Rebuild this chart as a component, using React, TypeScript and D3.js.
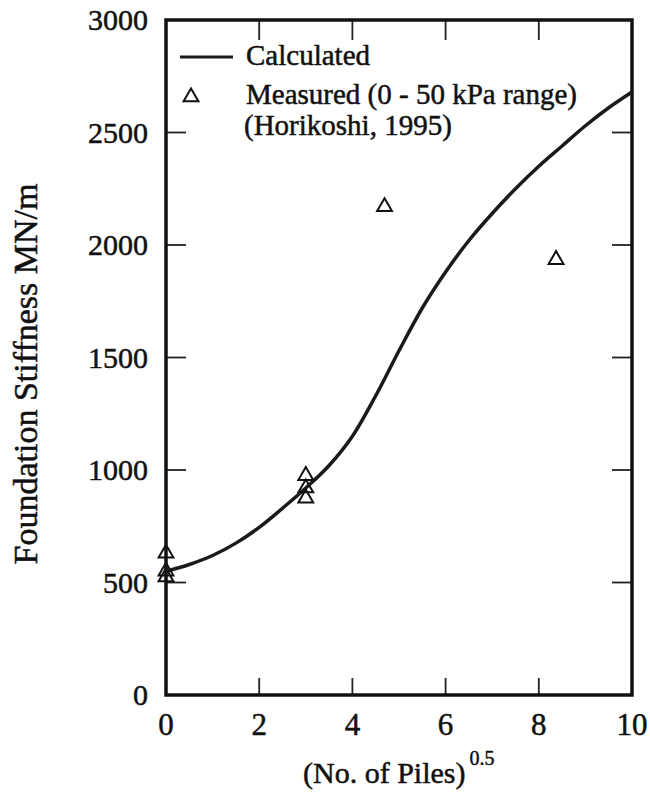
import React, { useEffect, useRef } from 'react';
import * as d3 from 'd3';

// Calculated curve: sqrt(no. of piles) vs stiffness (MN/m)
const calcX = [0, 0.5, 1, 1.5, 2, 2.5, 3, 3.5, 4, 4.5, 5, 5.5, 6, 6.5, 7, 7.5, 8, 8.5, 9, 9.5, 10];
const calcY = [550, 580, 620, 675, 745, 830, 920, 1020, 1150, 1330, 1530, 1720, 1880, 2020, 2140, 2250, 2350, 2440, 2530, 2610, 2680];

// Measured points (Horikoshi, 1995)
const measX = [0, 0, 0, 3, 3, 3, 4.69, 8.37];
const measY = [630, 550, 525, 975, 920, 875, 2170, 1935];

const xTicks = [0, 2, 4, 6, 8, 10];
const yTicks = [0, 500, 1000, 1500, 2000, 2500, 3000];

const legendLabels = ['Calculated', 'Measured (0 - 50 kPa range)', '(Horikoshi, 1995)'];

const W = 650;
const H = 792;
const FONT = 'Liberation Serif, Times New Roman, Times, DejaVu Serif, serif';

export default function App() {
  const svgRef = useRef<SVGSVGElement | null>(null);

  useEffect(() => {
    document.body.style.margin = '0';
    if (!svgRef.current) return;
    const svg = d3.select(svgRef.current);
    svg.selectAll('*').remove();

    const x = d3.scaleLinear().domain([0, 10]).range([166, 632]);
    const y = d3.scaleLinear().domain([0, 3000]).range([695, 20]);

    svg.append('rect').attr('width', W).attr('height', H).attr('fill', '#fff');

    const g = svg.append('g')
      .attr('font-family', FONT)
      .attr('fill', '#111');

    // ticks (inward, on all four sides)
    g.selectAll('.xtb').data(xTicks.slice(1, -1)).enter().append('line')
      .attr('x1', d => x(d)).attr('x2', d => x(d))
      .attr('y1', y(0)).attr('y2', y(0) - 17)
      .attr('stroke', '#222').attr('stroke-width', 1.8);
    g.selectAll('.xtt').data(xTicks.slice(1, -1)).enter().append('line')
      .attr('x1', d => x(d)).attr('x2', d => x(d))
      .attr('y1', y(3000)).attr('y2', y(3000) + 20)
      .attr('stroke', '#222').attr('stroke-width', 1.8);
    g.selectAll('.ytl').data(yTicks.slice(1, -1)).enter().append('line')
      .attr('x1', x(0)).attr('x2', x(0) + 20)
      .attr('y1', d => y(d)).attr('y2', d => y(d))
      .attr('stroke', '#222').attr('stroke-width', 1.8);
    g.selectAll('.ytr').data(yTicks.slice(1, -1)).enter().append('line')
      .attr('x1', x(10)).attr('x2', x(10) - 20)
      .attr('y1', d => y(d)).attr('y2', d => y(d))
      .attr('stroke', '#222').attr('stroke-width', 1.8);

    // frame
    g.append('rect')
      .attr('x', x(0)).attr('y', y(3000))
      .attr('width', x(10) - x(0)).attr('height', y(0) - y(3000))
      .attr('fill', 'none').attr('stroke', '#111').attr('stroke-width', 3.5);

    // tick labels
    g.selectAll('.xl').data(xTicks).enter().append('text')
      .attr('x', d => x(d)).attr('y', 735)
      .attr('text-anchor', 'middle')
      .attr('font-size', 31)
      .attr('stroke', '#111').attr('stroke-width', 0.5)
      .text(d => d);
    g.selectAll('.yl').data(yTicks).enter().append('text')
      .attr('x', 148).attr('y', d => y(d))
      .attr('dy', '0.34em')
      .attr('text-anchor', 'end')
      .attr('font-size', 30)
      .attr('stroke', '#111').attr('stroke-width', 0.5)
      .text(d => d);

    // axis titles
    const xt = g.append('text')
      .attr('x', 303).attr('y', 783)
      .attr('font-size', 30)
      .attr('stroke', '#111').attr('stroke-width', 0.5);
    xt.append('tspan').text('(No. of Piles)');
    xt.append('tspan').attr('dx', 4).attr('dy', -18).attr('font-size', 20).text('0.5');

    g.append('text')
      .attr('transform', `translate(37,374) rotate(-90)`)
      .attr('text-anchor', 'middle')
      .attr('font-size', 34)
      .attr('stroke', '#111').attr('stroke-width', 0.5)
      .text('Foundation Stiffness MN/m');

    // calculated curve
    const line = d3.line<number>()
      .x((_, i) => x(calcX[i]))
      .y(d => y(d))
      .curve(d3.curveCatmullRom.alpha(0.5));
    g.append('path')
      .datum(calcY)
      .attr('d', line)
      .attr('fill', 'none').attr('stroke', '#1a1a1a').attr('stroke-width', 3.5);

    // measured triangles
    const tri = d3.symbol().type(d3.symbolTriangle).size(95);
    g.selectAll('.m').data(measY).enter().append('path')
      .attr('d', tri)
      .attr('transform', (d, i) => `translate(${x(measX[i])},${y(d)})`)
      .attr('fill', 'none').attr('stroke', '#111').attr('stroke-width', 2);

    // legend
    g.append('line')
      .attr('x1', 180).attr('x2', 233).attr('y1', 57).attr('y2', 57)
      .attr('stroke', '#1a1a1a').attr('stroke-width', 3);
    g.append('path')
      .attr('d', tri)
      .attr('transform', 'translate(191,97)')
      .attr('fill', 'none').attr('stroke', '#111').attr('stroke-width', 2);
    g.selectAll('.lg').data(legendLabels).enter().append('text')
      .attr('x', (d, i) => (i === 2 ? 244 : 246))
      .attr('y', (d, i) => [65, 104, 135][i])
      .attr('font-size', 29)
      .attr('stroke', '#111').attr('stroke-width', 0.5)
      .text(d => d);
  }, []);

  return <svg ref={svgRef} width={W} height={H} style={{ display: 'block' }}></svg>;
}
